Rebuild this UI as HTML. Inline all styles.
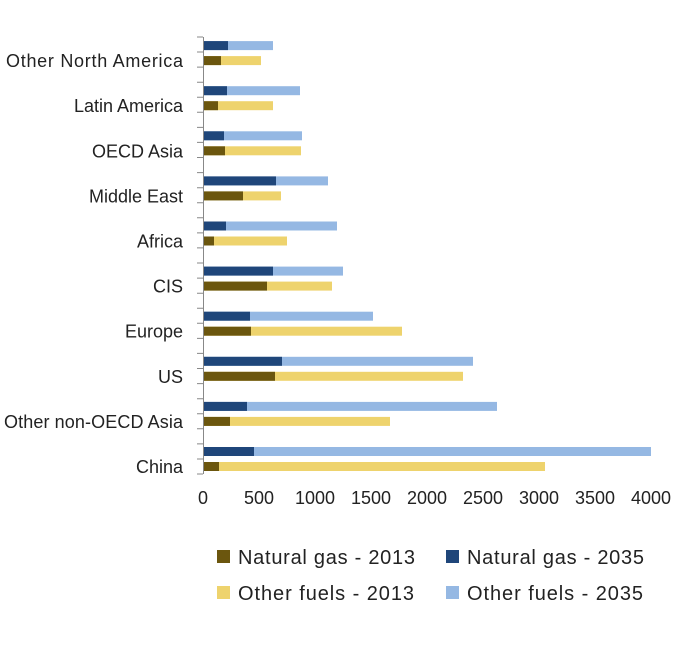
<!DOCTYPE html>
<html><head><style>body{margin:0;background:#fff}</style></head><body>
<svg width="688" height="648" xmlns="http://www.w3.org/2000/svg" font-family="Liberation Sans, sans-serif">
<g>
<rect x="203" y="447" width="448" height="9" fill="#95b8e3"/><rect x="203" y="447" width="51" height="9" fill="#1f467a"/>
<rect x="203" y="462" width="342" height="9" fill="#eed36d"/><rect x="203" y="462" width="16" height="9" fill="#6b560e"/>
<rect x="203" y="401.9" width="294" height="9" fill="#95b8e3"/><rect x="203" y="401.9" width="44" height="9" fill="#1f467a"/>
<rect x="203" y="416.9" width="187" height="9" fill="#eed36d"/><rect x="203" y="416.9" width="27" height="9" fill="#6b560e"/>
<rect x="203" y="356.8" width="270" height="9" fill="#95b8e3"/><rect x="203" y="356.8" width="79" height="9" fill="#1f467a"/>
<rect x="203" y="371.8" width="260" height="9" fill="#eed36d"/><rect x="203" y="371.8" width="72" height="9" fill="#6b560e"/>
<rect x="203" y="311.7" width="170" height="9" fill="#95b8e3"/><rect x="203" y="311.7" width="47" height="9" fill="#1f467a"/>
<rect x="203" y="326.7" width="199" height="9" fill="#eed36d"/><rect x="203" y="326.7" width="48" height="9" fill="#6b560e"/>
<rect x="203" y="266.6" width="140" height="9" fill="#95b8e3"/><rect x="203" y="266.6" width="70" height="9" fill="#1f467a"/>
<rect x="203" y="281.6" width="129" height="9" fill="#eed36d"/><rect x="203" y="281.6" width="64" height="9" fill="#6b560e"/>
<rect x="203" y="221.5" width="134" height="9" fill="#95b8e3"/><rect x="203" y="221.5" width="23" height="9" fill="#1f467a"/>
<rect x="203" y="236.5" width="84" height="9" fill="#eed36d"/><rect x="203" y="236.5" width="11" height="9" fill="#6b560e"/>
<rect x="203" y="176.4" width="125" height="9" fill="#95b8e3"/><rect x="203" y="176.4" width="73" height="9" fill="#1f467a"/>
<rect x="203" y="191.4" width="78" height="9" fill="#eed36d"/><rect x="203" y="191.4" width="40" height="9" fill="#6b560e"/>
<rect x="203" y="131.3" width="99" height="9" fill="#95b8e3"/><rect x="203" y="131.3" width="21" height="9" fill="#1f467a"/>
<rect x="203" y="146.3" width="98" height="9" fill="#eed36d"/><rect x="203" y="146.3" width="22" height="9" fill="#6b560e"/>
<rect x="203" y="86.2" width="97" height="9" fill="#95b8e3"/><rect x="203" y="86.2" width="24" height="9" fill="#1f467a"/>
<rect x="203" y="101.2" width="70" height="9" fill="#eed36d"/><rect x="203" y="101.2" width="15" height="9" fill="#6b560e"/>
<rect x="203" y="41.1" width="70" height="9" fill="#95b8e3"/><rect x="203" y="41.1" width="25" height="9" fill="#1f467a"/>
<rect x="203" y="56.1" width="58" height="9" fill="#eed36d"/><rect x="203" y="56.1" width="18" height="9" fill="#6b560e"/>
</g>
<g font-size="18" fill="#222" text-anchor="end">
<text x="183" y="473">China</text>
<text x="183" y="427.9" textLength="179">Other non-OECD Asia</text>
<text x="183" y="382.8">US</text>
<text x="183" y="337.7">Europe</text>
<text x="183" y="292.6">CIS</text>
<text x="183" y="247.5">Africa</text>
<text x="183" y="202.4">Middle East</text>
<text x="183" y="157.3">OECD Asia</text>
<text x="183" y="112.2">Latin America</text>
<text x="183" y="67.1" textLength="177">Other North America</text>
</g>
<path stroke="#888" stroke-width="1" fill="none" d="M203.5 37V474 M197 474H203 M197 459H203 M197 443.9H203 M197 428.8H203 M197 413.7H203 M197 398.7H203 M197 383.6H203 M197 368.5H203 M197 353.4H203 M197 338.4H203 M197 323.3H203 M197 308.2H203 M197 293.2H203 M197 278.1H203 M197 263H203 M197 247.9H203 M197 232.9H203 M197 217.8H203 M197 202.7H203 M197 187.7H203 M197 172.6H203 M197 157.5H203 M197 142.4H203 M197 127.4H203 M197 112.3H203 M197 97.2H203 M197 82.2H203 M197 67.1H203 M197 52H203 M197 37H203"/>
<g font-size="18" fill="#222" text-anchor="middle">
<text x="203" y="504">0</text><text x="259" y="504">500</text><text x="315" y="504">1000</text><text x="371" y="504">1500</text><text x="427" y="504">2000</text><text x="483" y="504">2500</text><text x="539" y="504">3000</text><text x="595" y="504">3500</text><text x="651" y="504">4000</text>
</g>
<g font-size="20" fill="#222">
<rect x="217" y="550" width="13" height="13" fill="#6b560e"/><text x="238" y="564" textLength="177">Natural gas - 2013</text>
<rect x="446" y="550" width="13" height="13" fill="#1f467a"/><text x="467" y="564" textLength="177">Natural gas - 2035</text>
<rect x="217" y="586" width="13" height="13" fill="#eed36d"/><text x="238" y="600" textLength="176">Other fuels - 2013</text>
<rect x="446" y="586" width="13" height="13" fill="#95b8e3"/><text x="467" y="600" textLength="176">Other fuels - 2035</text>
</g>
</svg>
</body></html>
